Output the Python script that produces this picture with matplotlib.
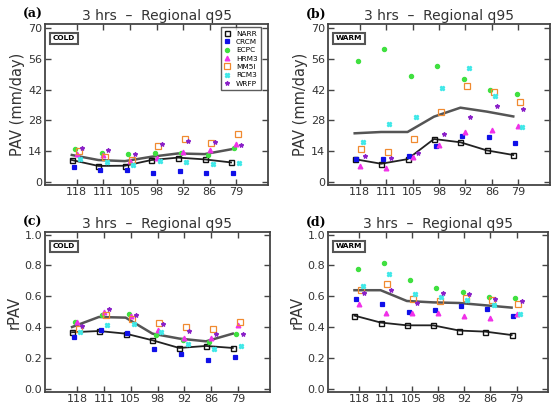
import matplotlib
matplotlib.use("Agg")
import matplotlib.pyplot as plt
import numpy as np

# ---------------- data ----------------
resolutions = ["118", "111", "105", "98", "92", "86", "79"]
models = ["NARR", "CRCM", "ECPC", "HRM3", "MM5I", "RCM3", "WRFP"]

# (a) PAV cold
a_NARR = [9.9, 7.2, 7.3, 9.9, 11.0, 10.2, 8.8]
a_mean = [12.2, 9.9, 9.4, 11.4, 12.9, 12.6, 14.8]
a_CRCM = [6.5, 5.5, 5.5, 4.1, 5.0, 4.1, 4.1]
a_ECPC = [14.9, 13.1, 12.8, 13.1, 13.0, 12.3, 15.4]
a_HRM3 = [12.5, 12.0, 9.5, 11.0, 13.5, 14.6, 17.2]
a_MM5I = [14.0, 11.4, 9.7, 16.3, 19.6, 17.8, 21.6]
a_RCM3 = [10.2, 8.8, 7.8, 9.3, 8.8, 7.9, 8.4]
a_WRFP = [15.5, 14.5, 12.8, 17.0, 18.4, 18.1, 16.7]

# (b) PAV warm
b_NARR = [10.3, 8.2, 10.3, 19.5, 18.0, 14.3, 12.2]
b_mean = [22.1, 22.7, 22.7, 29.7, 33.8, 32.0, 29.8]
b_CRCM = [10.3, 10.5, 11.6, 16.4, 20.7, 20.5, 17.5]
b_ECPC = [55.2, 60.6, 48.2, 53.0, 47.0, 41.7, 40.0]
b_HRM3 = [7.3, 6.1, 11.4, 16.9, 22.8, 23.7, 25.4]
b_MM5I = [15.1, 13.7, 19.6, 31.8, 43.8, 40.8, 36.2]
b_RCM3 = [18.1, 26.3, 29.4, 42.6, 52.0, 39.1, 25.1]
b_WRFP = [11.6, 11.0, 13.2, 21.8, 29.4, 34.5, 33.3]

# (c) rPAV cold
c_NARR = [0.366, 0.374, 0.357, 0.314, 0.264, 0.277, 0.264]
c_mean = [0.400, 0.465, 0.461, 0.357, 0.325, 0.307, 0.357]
c_CRCM = [0.333, 0.383, 0.361, 0.255, 0.227, 0.188, 0.206]
c_ECPC = [0.433, 0.480, 0.483, 0.350, 0.314, 0.300, 0.357]
c_HRM3 = [0.430, 0.500, 0.470, 0.380, 0.330, 0.330, 0.410]
c_MM5I = [0.390, 0.480, 0.450, 0.424, 0.400, 0.390, 0.430]
c_RCM3 = [0.366, 0.410, 0.418, 0.368, 0.292, 0.260, 0.275]
c_WRFP = [0.405, 0.515, 0.476, 0.422, 0.377, 0.353, 0.353]

# (d) rPAV warm
d_NARR = [0.474, 0.429, 0.411, 0.411, 0.377, 0.370, 0.348]
d_mean = [0.639, 0.639, 0.569, 0.560, 0.556, 0.541, 0.526]
d_CRCM = [0.584, 0.552, 0.498, 0.513, 0.535, 0.515, 0.472]
d_ECPC = [0.775, 0.814, 0.703, 0.656, 0.628, 0.595, 0.589]
d_HRM3 = [0.548, 0.491, 0.491, 0.491, 0.472, 0.459, 0.487]
d_MM5I = [0.639, 0.680, 0.580, 0.571, 0.591, 0.578, 0.548]
d_RCM3 = [0.667, 0.745, 0.617, 0.597, 0.574, 0.541, 0.483]
d_WRFP = [0.623, 0.643, 0.558, 0.621, 0.615, 0.582, 0.567]

panels = [
    ("(a)", "COLD", "PAV (mm/day)", [0, 14, 28, 42, 56, 70], (-1.5, 72),
     a_NARR, a_mean, [a_CRCM, a_ECPC, a_HRM3, a_MM5I, a_RCM3, a_WRFP], True),
    ("(b)", "WARM", "PAV (mm/day)", [0, 14, 28, 42, 56, 70], (-1.5, 72),
     b_NARR, b_mean, [b_CRCM, b_ECPC, b_HRM3, b_MM5I, b_RCM3, b_WRFP], False),
    ("(c)", "COLD", "rPAV", [0.0, 0.2, 0.4, 0.6, 0.8, 1.0], (-0.022, 1.017),
     c_NARR, c_mean, [c_CRCM, c_ECPC, c_HRM3, c_MM5I, c_RCM3, c_WRFP], False),
    ("(d)", "WARM", "rPAV", [0.0, 0.2, 0.4, 0.6, 0.8, 1.0], (-0.022, 1.017),
     d_NARR, d_mean, [d_CRCM, d_ECPC, d_HRM3, d_MM5I, d_RCM3, d_WRFP], False),
]

# ---------------- style ----------------
styles = [  # CRCM, ECPC, HRM3, MM5I, RCM3, WRFP
    dict(marker="s", color="#1010e8", mfc="#1010e8", ms=2.6),
    dict(marker="o", color="#40e040", mfc="#40e040", ms=3.0),
    dict(marker="^", color="#f030e8", mfc="#f030e8", ms=3.4),
    dict(marker="s", color="#f08a30", mfc="none", ms=4.0),
    dict(marker="X", color="#40e8e8", mfc="#40e8e8", ms=3.2),
    dict(marker="*", color="#8a20c8", mfc="#8a20c8", ms=3.2),
]
offsets = [-0.125, -0.0625, 0.0, 0.0625, 0.125, 0.19]
narr_off = -0.19

fig = plt.figure(figsize=(5.56, 4.04), dpi=100)
W, H = 556.0, 404.0
boxes = [(45, 24, 268, 185), (328, 24, 550, 185), (45, 232, 270, 392), (328, 232, 548, 392)]
framec = "#444444"

x = np.arange(len(resolutions))
for (lab, season, ylab, yt, ylim, narr, mean, mods, leg), (l, t, r, b) in zip(panels, boxes):
    ax = fig.add_axes([l / W, 1 - b / H, (r - l) / W, (b - t) / H])
    ax.plot(x + narr_off, mean, color="#555555", lw=1.8, zorder=2)
    ax.plot(x + narr_off, narr, color="#222222", lw=1.3, marker="s", ms=3.6,
            mfc="none", mec="#111111", mew=1.0, zorder=3, label="NARR")
    for name, vals, st, off in zip(models[1:], mods, styles, offsets):
        ax.plot(x + off, vals, ls="none", marker=st["marker"], ms=st["ms"],
                mfc=st["mfc"], mec=st["color"], mew=0.9, zorder=4, label=name)
    ax.set_xlim(-1.2, 7.2)
    ax.set_ylim(*ylim)
    ax.set_xticks(x)
    ax.set_xticklabels(resolutions)
    ax.set_yticks(yt)
    if yt[-1] == 70:
        ax.set_yticklabels([str(v) for v in yt])
    else:
        ax.set_yticklabels(["%.1f" % v for v in yt])
    ax.tick_params(direction="in", top=True, right=True, length=4, width=1.0,
                   color=framec, labelsize=8, labelcolor="#333333", pad=2)
    ax.tick_params(axis="x", pad=1.5)
    for s in ax.spines.values():
        s.set_color(framec)
        s.set_linewidth(1.3)
    ax.set_ylabel(ylab, fontsize=10.5, color="#333333", labelpad=2)
    ax.set_title("3 hrs  \u2013  Regional q95", fontsize=10, color="#333333", pad=3)
    ax.text(-0.10, 1.02, lab, transform=ax.transAxes, fontsize=9,
            fontweight="bold", family="DejaVu Serif", ha="left", va="bottom")
    ax.text(0.035, 0.91, season, transform=ax.transAxes, fontsize=5.3,
            fontweight="bold", ha="left", va="center",
            bbox=dict(boxstyle="square,pad=0.35", fc="white", ec="#555555", lw=1.5))
    if leg:
        lg = ax.legend(loc="upper right", fontsize=5.3, frameon=True, fancybox=False,
                       shadow=False, handlelength=0.7, handletextpad=0.9,
                       labelspacing=0.3, borderpad=0.45, borderaxespad=0.2,
                       bbox_to_anchor=(0.975, 0.99))
        lg.get_frame().set_edgecolor("#333333")
        lg.get_frame().set_linewidth(1.0)
        for h in lg.get_lines():
            h.set_linestyle("none")

fig.savefig("out.png", dpi=100)
